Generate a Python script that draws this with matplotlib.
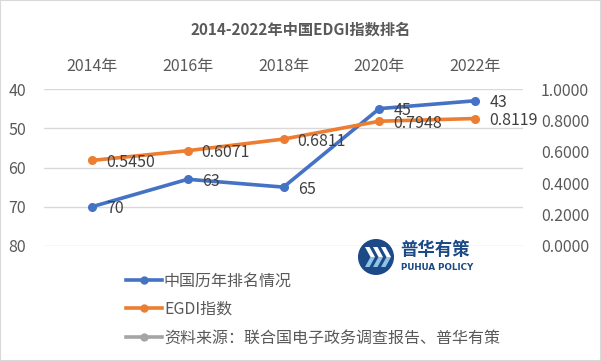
import matplotlib.pyplot as plt
from matplotlib.lines import Line2D
from matplotlib.patches import Ellipse, Polygon, Rectangle

plt.rcParams['font.family'] = ['Noto Sans CJK SC', 'DejaVu Sans']

# data
years = ['2014年', '2016年', '2018年', '2020年', '2022年']
rank = [70, 63, 65, 45, 43]
egdi = [0.5450, 0.6071, 0.6811, 0.7948, 0.8119]
rank_ticks = [40, 50, 60, 70, 80]
egdi_ticks = [0.0, 0.2, 0.4, 0.6, 0.8, 1.0]

W, H = 601, 361
txt = '#595959'
blue = '#4472C4'
orange = '#ED7D31'
grey = '#A5A5A5'


def fx(x):
    return x / W


def fy(y):
    return 1 - y / H


fig = plt.figure(figsize=(W / 100, H / 100), dpi=100)
fig.patches.append(Rectangle((0, 0), 1, 1, transform=fig.transFigure,
                             fill=False, ec='#D9D9D9', lw=1.5))

ax = fig.add_axes([fx(44), fy(246), fx(523) - fx(44), (246 - 89) / H])
xs = list(range(len(years)))

ax.set_xlim(-0.5, 4.5)
ax.set_ylim(80, 40)
ax.set_yticks(rank_ticks)
ax.grid(axis='y', color='#D9D9D9', lw=1)
ax.set_axisbelow(True)
for s in ax.spines.values():
    s.set_visible(False)
ax.xaxis.tick_top()
ax.set_xticks(xs)
ax.set_xticklabels(years)
ax.tick_params(axis='both', length=0, labelsize=11.5, labelcolor=txt)
ax.tick_params(axis='x', pad=10)
ax.tick_params(axis='y', pad=13)

ax.plot(xs, rank, color=blue, lw=2.6, marker='o', ms=5.5)
for x, v in zip(xs, rank):
    ax.annotate(str(v), (x, v), xytext=(10.5, -1.5), textcoords='offset points',
                ha='left', va='center', fontsize=11.5, color='#404040')

ax2 = ax.twinx()
ax2.set_ylim(0, 1)
ax2.set_yticks(egdi_ticks)
ax2.set_yticklabels(['%.4f' % t for t in egdi_ticks])
for s in ax2.spines.values():
    s.set_visible(False)
ax2.tick_params(axis='y', length=0, labelsize=11.5, labelcolor=txt, pad=13)
ax2.plot(xs, egdi, color=orange, lw=2.6, marker='o', ms=5.5)
for x, v in zip(xs, egdi):
    ax2.annotate('%.4f' % v, (x, v), xytext=(10, -1.5), textcoords='offset points',
                 ha='left', va='center', fontsize=11.5, color='#404040')

fig.text(0.5, fy(30), '2014-2022年中国EDGI指数排名', ha='center', va='center',
         fontsize=11, fontweight='bold', color=txt)

# legend
handles = [Line2D([], [], color=blue, lw=2.6, marker='o', ms=5),
           Line2D([], [], color=orange, lw=2.6, marker='o', ms=5),
           Line2D([], [], color=grey, lw=2.6, marker='o', ms=5)]
labels = ['中国历年排名情况', 'EGDI指数', '资料来源：联合国电子政务调查报告、普华有策']
fig.legend(handles, labels, loc='upper left', bbox_to_anchor=(fx(120), fy(266)),
           frameon=False, fontsize=11.5, labelcolor=txt, handlelength=2.2,
           handletextpad=0.15, labelspacing=0.72, borderaxespad=0)

# logo
navy = '#1B4A86'
cx, cy, r = 376, 257, 18
fig.patches.append(Ellipse((fx(cx), fy(cy)), 2 * r / W, 2 * r / H,
                           transform=fig.transFigure, fc=navy, ec='none'))
for off in [-11, -3, 5]:
    x0 = cx + off
    top = [(x0, 247), (x0 + 4.5, 247), (x0 + 10, 257), (x0 + 5.5, 257)]
    bot = [(x0 + 5.5, 257), (x0 + 10, 257), (x0 + 4.5, 267), (x0, 267)]
    fig.patches.append(Polygon([(fx(a), fy(b)) for a, b in top], closed=True,
                               transform=fig.transFigure, fc='white', ec='none'))
    fig.patches.append(Polygon([(fx(a), fy(b)) for a, b in bot], closed=True,
                               transform=fig.transFigure, fc='#8FC3EA', ec='none'))
fig.text(fx(400), fy(250), '普华有策', ha='left', va='center', fontsize=12.5,
         fontweight='bold', color=navy)
fig.text(fx(401), fy(267), 'PUHUA POLICY', ha='left', va='center', fontsize=6.3,
         fontweight='bold', color=navy, family='DejaVu Sans')

fig.savefig('out.png', dpi=100)
